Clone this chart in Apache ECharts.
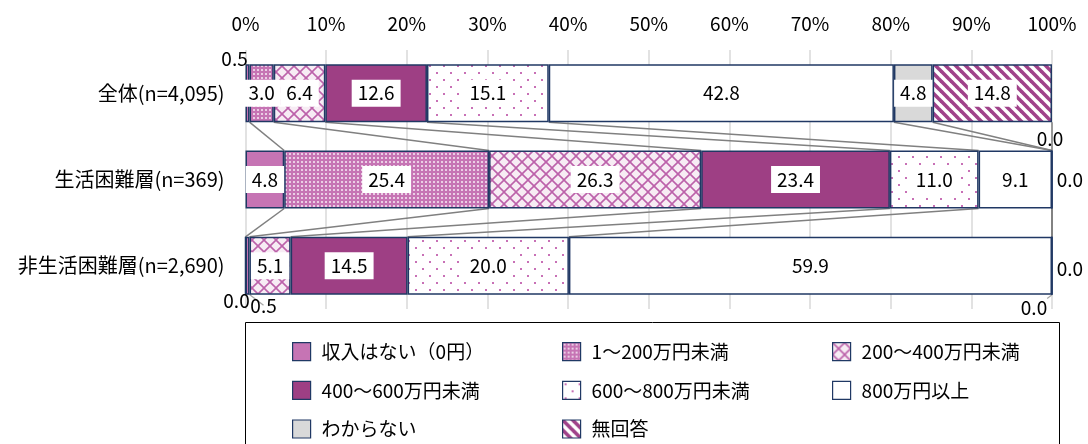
<!DOCTYPE html>
<html><head><meta charset="utf-8">
<script src="https://cdn.jsdelivr.net/npm/echarts@6/dist/echarts.min.js"></script>
<style>html,body{margin:0;padding:0;background:#fff}#c{width:1088px;height:444px}</style>
</head><body><div id="c"></div>
<script>
// ---- data ----
const categories = ['全体(n=4,095)', '生活困難層(n=369)', '非生活困難層(n=2,690)'];
const seriesNames = ['収入はない（0円）', '1～200万円未満', '200～400万円未満', '400～600万円未満', '600～800万円未満', '800万円以上', 'わからない', '無回答'];
const noIncome     = [0.5, 4.8, 0.0];
const under200     = [3.0, 25.4, 0.5];
const from200to400 = [6.4, 26.3, 5.1];
const from400to600 = [12.6, 23.4, 14.5];
const from600to800 = [15.1, 11.0, 20.0];
const over800      = [42.8, 9.1, 59.9];
const unknown      = [4.8, 0.0, 0.0];
const noAnswer     = [14.8, 0.0, 0.0];
const xTicks = [0, 10, 20, 30, 40, 50, 60, 70, 80, 90, 100];

const values = [noIncome, under200, from200to400, from400to600, from600to800, over800, unknown, noAnswer];

// ---- styles ----
const FONT = "'Noto Sans CJK JP', 'Noto Sans', sans-serif";
const BAR_W = 58;
const BORDER = '#203864';
const PINK = '#C674B4';
const PURPLE = '#9E3F84';

function tile(size, draw) {
  const c = document.createElement('canvas');
  c.width = size; c.height = size;
  const g = c.getContext('2d');
  draw(g, size);
  return { image: c, repeat: 'repeat' };
}
const patDense = tile(4, (g, s) => {
  g.fillStyle = PINK; g.fillRect(0, 0, s, s);
  g.fillStyle = 'rgba(255,255,255,0.65)'; g.fillRect(1, 1, 2, 2);
});
const patLattice = tile(12, (g, s) => {
  g.fillStyle = '#F7ECF4'; g.fillRect(0, 0, s, s);
  g.strokeStyle = '#BC62AA'; g.lineWidth = 1.6;
  for (const c of [-s, 0, s]) {
    g.beginPath(); g.moveTo(0, c); g.lineTo(s, c + s); g.stroke();
    g.beginPath(); g.moveTo(0, s - c); g.lineTo(s, -c); g.stroke();
  }
});
const patSparse = tile(14, (g, s) => {
  g.fillStyle = '#fff'; g.fillRect(0, 0, s, s);
  g.fillStyle = '#C870B6';
  g.fillRect(2, 2, 2, 2); g.fillRect(9, 9, 2, 2);
});
const patStripe = tile(10, (g, s) => {
  g.fillStyle = '#fff'; g.fillRect(0, 0, s, s);
  g.strokeStyle = '#A0428A'; g.lineWidth = 3.6;
  for (const c of [-s, 0, s]) {
    g.beginPath(); g.moveTo(-2, c - 2); g.lineTo(s + 2, c + s + 2); g.stroke();
  }
});
const fills = [PINK, patDense, patLattice, PURPLE, patSparse, '#FFFFFF', '#D9D9D9', patStripe];

// per-label placement for tiny segments (seriesIndex-rowIndex)
const outside = {
  '0-0': { position: 'top', offset: [-13, 8] },
  '0-2': { position: 'bottom', offset: [-9, -8] },
  '1-2': { position: 'bottom', offset: [16, -3], guide: true },
  '6-1': { position: 'right', offset: [0, 0] },
  '6-2': { position: 'right', offset: [0, 3] },
  '7-1': { position: 'top', offset: [-2, 3] },
  '7-2': { position: 'bottom', offset: [-18, -1], guide: true }
};

const barSeries = values.map((arr, si) => ({
  name: seriesNames[si],
  type: 'bar',
  stack: 'total',
  barWidth: BAR_W,
  z: 3,
  itemStyle: { color: fills[si], borderColor: BORDER, borderWidth: 1.5 },
  label: {
    show: true,
    position: 'inside',
    formatter: p => Number(p.value).toFixed(1),
    fontFamily: FONT, fontSize: 19, color: '#000',
    backgroundColor: '#fff', padding: [4, 6]
  },
  data: arr.map((v, ri) => {
    const o = outside[si + '-' + ri];
    if (!o) return v;
    const item = { value: v, label: { position: o.position, offset: o.offset, backgroundColor: 'transparent', padding: 0, distance: 4 } };
    if (o.guide) item.labelLine = { show: true, lineStyle: { color: '#A6A6A6', width: 1.2 } };
    return item;
  })
}));

// series lines connecting segment right edges between adjacent bars
function cumulative(row) {
  let s = 0;
  return values.map(arr => (s += arr[row], Math.round(s * 10) / 10));
}
const cums = categories.map((_, r) => cumulative(r));
const linkData = [];
for (let r = 0; r < categories.length - 1; r++) {
  for (let k = 0; k < values.length; k++) {
    linkData.push([cums[r][k], r, cums[r + 1][k], r + 1]);
  }
}
const linkSeries = {
  type: 'custom',
  z: 1,
  silent: true,
  encode: { x: 0, y: 1 },
  data: linkData,
  renderItem: (params, api) => {
    const a = api.coord([api.value(0), api.value(1)]);
    const b = api.coord([api.value(2), api.value(3)]);
    return {
      type: 'line',
      shape: { x1: a[0], y1: a[1] + BAR_W / 2, x2: b[0], y2: b[1] - BAR_W / 2 },
      style: { stroke: '#808080', lineWidth: 1.5 }
    };
  }
};

const legendBase = {
  orient: 'vertical', top: 337, itemWidth: 18, itemHeight: 18, itemGap: 19.5,
  icon: 'rect', selectedMode: false,
  itemStyle: { borderColor: BORDER, borderWidth: 1.2 },
  textStyle: { fontFamily: FONT, fontSize: 19, color: '#000', lineHeight: 18, padding: [0, 0, 0, 6] }
};

const option = {
  animation: false,
  backgroundColor: '#fff',
  grid: { left: 245.5, right: 36, top: 50, height: 259, containLabel: false },
  xAxis: {
    type: 'value', position: 'top', min: 0, max: 100, interval: 10,
    axisLine: { show: false }, axisTick: { show: false },
    axisLabel: {
      margin: 17, fontFamily: FONT, fontSize: 19, color: '#000',
      formatter: v => xTicks.includes(v) ? v + '%' : ''
    },
    splitLine: { show: true, lineStyle: { color: '#D9D9D9', width: 1.5 } }
  },
  yAxis: {
    type: 'category', inverse: true, data: categories,
    axisLine: { show: false }, axisTick: { show: false },
    axisLabel: { margin: 21, fontFamily: FONT, fontSize: 20, color: '#000' }
  },
  legend: [
    Object.assign({}, legendBase, { left: 287, data: [seriesNames[0], seriesNames[3], seriesNames[6]] }),
    Object.assign({}, legendBase, { left: 557, data: [seriesNames[1], seriesNames[4], seriesNames[7]] }),
    Object.assign({}, legendBase, { left: 827, data: [seriesNames[2], seriesNames[5]] })
  ],
  graphic: [{
    type: 'rect', left: 243, top: 320,
    shape: { width: 814, height: 140 },
    style: { fill: 'none', stroke: '#000', lineWidth: 1 }
  }],
  series: [linkSeries].concat(barSeries)
};

const chart = echarts.init(document.getElementById('c'), null, { renderer: 'canvas' });
chart.setOption(option);
</script>
</body></html>
